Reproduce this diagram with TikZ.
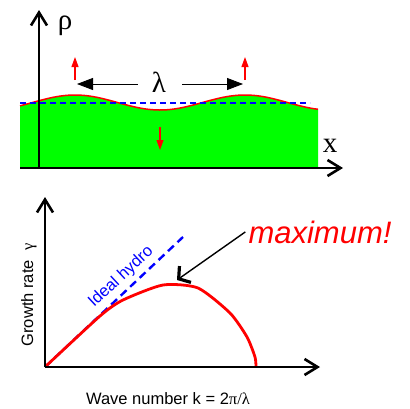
\documentclass[tikz,border=0pt]{standalone}
\usepackage{fontspec}
\setmainfont{Liberation Sans}
\newfontfamily\greek{Liberation Serif}
\usetikzlibrary{arrows.meta}
\definecolor{fluid}{HTML}{00FF00}
\definecolor{crest}{HTML}{FF0000}
\definecolor{hydro}{HTML}{0000FF}

\begin{document}
\begin{tikzpicture}[x=1pt,y=-1pt,
  axis/.style={line width=2.6pt,-{Straight Barb[length=13pt,width=16pt]}},
  push/.style={crest,line width=1.1pt,-{Triangle[length=10pt,width=7pt]}},
  lamarr/.style={black,line width=0.8pt,-{Triangle[length=16pt,width=12pt]}},
  ptr/.style={black,line width=1.4pt,-{Straight Barb[length=8pt,width=20pt,line width=3.2pt]}},
  sym/.style={font=\greek\fontsize{29}{32}\selectfont,inner sep=0pt},
  lbl/.style={font=\fontsize{16.5}{19}\selectfont,inner sep=0pt}]
\useasboundingbox (0,0) rectangle (410,408);

% upper panel: perturbed surface
\fill[fluid] (20,168) -- plot[domain=20:318,samples=80] (\x,{102.5-7.5*cos((\x-75)/170*360)}) -- (318,168) -- cycle;
\draw[crest,line width=1.5pt] plot[domain=20:318,samples=80] (\x,{102.5-7.5*cos((\x-75)/170*360)});
\draw[hydro,line width=1.8pt,dash pattern=on 6pt off 4pt] (20,103) -- (310,103);

\draw[axis] (20,168) -- (343,168);
\draw[axis] (39,168) -- (39,10);
\node[sym,anchor=base] (rho) at (65,29) {ρ};
\node[sym,anchor=base] (xlbl) at (330,152) {x};

\draw[push] (75,80) -- (75,57);
\draw[push] (245,80) -- (245,57);
\draw[push] (160,127) -- (160,150);

\node[sym,anchor=base] (lam) at (159,92) {λ};
\coordinate (lamL) at (77,84);
\coordinate (lamR) at (243,84);
\draw[lamarr,shorten <=14pt] (lam.west |- lamL) -- (lamL);
\draw[lamarr,shorten <=16pt] (lam.east |- lamR) -- (lamR);

% lower panel: growth rate vs wave number
\draw[hydro,line width=2.4pt,dash pattern=on 8pt off 5pt] (45,367) -- (183,237);
\draw[crest,line width=2.8pt,line join=round] plot[smooth,tension=0.4] coordinates
  {(45,367) (100,316) (123,300) (163,285) (198,288) (230,313) (247,337) (255,357) (256,367)};
\draw[axis] (45,367) -- (320,367);
\draw[axis] (45,367) -- (45,197);

\node[lbl,rotate=90,anchor=base] (gamlbl) at (33,295) {Growth rate~~{\greek γ}};
\node[lbl,anchor=base] (klbl) at (168,404) {Wave number k = 2{\greek π/λ}};
\node[lbl,hydro,rotate=43] (ideal) at (121,277) {Ideal hydro};

\node[crest,anchor=base,font=\itshape\fontsize{31}{36}\selectfont,inner sep=3pt] (maxlbl) at (320,243) {maximum!};
\coordinate (peak) at (177,280);
\draw[ptr] (maxlbl.west) -- (peak);
\end{tikzpicture}
\end{document}
